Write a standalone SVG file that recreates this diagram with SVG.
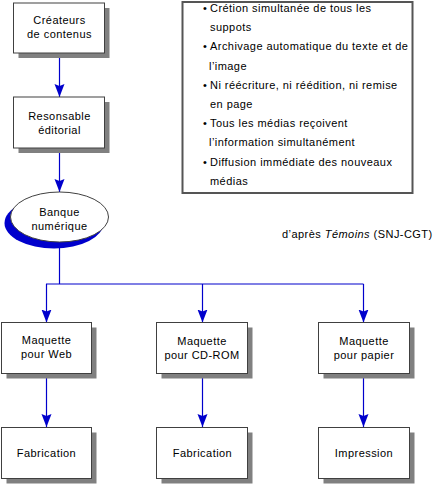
<svg xmlns="http://www.w3.org/2000/svg" width="446" height="487" viewBox="0 0 446 487">
<style>
text{font-family:"Liberation Sans",Arial,sans-serif;font-size:11px;fill:#000;letter-spacing:0.45px}
.c{text-anchor:middle}
.box{fill:#fff;stroke:#404040;stroke-width:1}
.sh{fill:#808080}
.ln{stroke:#0000cc;stroke-width:1.2;fill:none}
</style>
<defs>
<marker id="ah" markerUnits="userSpaceOnUse" markerWidth="14" markerHeight="11" refX="13" refY="5.5" orient="auto" viewBox="0 0 14 11">
<path d="M0,0.5 L13,5.5 L0,10.5 L2,5.5 z" fill="#0000cc"/>
</marker>
</defs>
<rect width="446" height="487" fill="#fff"/>
<g id="connectors">
<line class="ln" x1="59.5" y1="53" x2="59.5" y2="97" marker-end="url(#ah)"/>
<line class="ln" x1="59.5" y1="148" x2="59.5" y2="192" marker-end="url(#ah)"/>
<polyline class="ln" points="59.5,242 59.5,284"/>
<line class="ln" x1="46" y1="284" x2="363.5" y2="284"/>
<line class="ln" x1="46.5" y1="284" x2="46.5" y2="322.5" marker-end="url(#ah)"/>
<line class="ln" x1="202.5" y1="284" x2="202.5" y2="322.5" marker-end="url(#ah)"/>
<line class="ln" x1="363.5" y1="284" x2="363.5" y2="322.5" marker-end="url(#ah)"/>
<line class="ln" x1="46.5" y1="373" x2="46.5" y2="427" marker-end="url(#ah)"/>
<line class="ln" x1="202.5" y1="373" x2="202.5" y2="427" marker-end="url(#ah)"/>
<line class="ln" x1="363.5" y1="373" x2="363.5" y2="427" marker-end="url(#ah)"/>
</g>
<g id="createurs">
<rect class="sh" x="18.5" y="8" width="91" height="50"/>
<rect class="box" x="13.5" y="3" width="91" height="50"/>
<text class="c" x="59.5" y="23.5">Créateurs</text>
<text class="c" x="59.5" y="37.5">de contenus</text>
</g>
<g id="responsable">
<rect class="sh" x="18.5" y="102" width="91" height="51"/>
<rect class="box" x="13.5" y="97" width="91" height="51"/>
<text class="c" x="59.5" y="120">Resonsable</text>
<text class="c" x="59.5" y="134">éditorial</text>
</g>
<g id="banque">
<ellipse cx="54" cy="223" rx="49.5" ry="25.5" fill="#0000cc"/>
<ellipse cx="59.5" cy="217" rx="49" ry="25" fill="#fff" stroke="#404040" stroke-width="1"/>
<text class="c" x="59.5" y="215.5">Banque</text>
<text class="c" x="59.5" y="230">numérique</text>
</g>
<g id="notes">
<rect x="182.5" y="2" width="230" height="191" fill="#fff" stroke="#555" stroke-width="2"/>
<text x="203" y="12">•</text><text x="210" y="12">Crétion simultanée de tous les</text>
<text x="210" y="31">suppots</text>
<text x="203" y="50">•</text><text x="210" y="50">Archivage automatique du texte et de</text>
<text x="209" y="70">l’image</text>
<text x="203" y="89">•</text><text x="210" y="89">Ni réécriture, ni réédition, ni remise</text>
<text x="210" y="108">en page</text>
<text x="203" y="127">•</text><text x="210" y="127">Tous les médias reçoivent</text>
<text x="209" y="146">l’information simultanément</text>
<text x="203" y="166">•</text><text x="210" y="166">Diffusion immédiate des nouveaux</text>
<text x="210" y="185">médias</text>
</g>
<g id="source">
<text x="282" y="238">d’après <tspan font-style="italic">Témoins</tspan> (SNJ-CGT)</text>
</g>
<g id="maq-web">
<rect class="sh" x="6.5" y="327.5" width="90" height="51"/>
<rect class="box" x="1.5" y="322.5" width="90" height="51"/>
<text class="c" x="46.5" y="344">Maquette</text>
<text class="c" x="46.5" y="357.5">pour Web</text>
</g>
<g id="maq-cd">
<rect class="sh" x="161.5" y="327.5" width="91" height="51"/>
<rect class="box" x="156.5" y="322.5" width="91" height="51"/>
<text class="c" x="202" y="345">Maquette</text>
<text class="c" x="202" y="359">pour CD-ROM</text>
</g>
<g id="maq-papier">
<rect class="sh" x="323.5" y="327.5" width="91" height="51"/>
<rect class="box" x="318.5" y="322.5" width="91" height="51"/>
<text class="c" x="364" y="345">Maquette</text>
<text class="c" x="364" y="359">pour papier</text>
</g>
<g id="fab-web">
<rect class="sh" x="6.5" y="432.5" width="90" height="51"/>
<rect class="box" x="1.5" y="427.5" width="90" height="51"/>
<text class="c" x="46.5" y="457">Fabrication</text>
</g>
<g id="fab-cd">
<rect class="sh" x="161.5" y="432.5" width="91" height="51"/>
<rect class="box" x="156.5" y="427.5" width="91" height="51"/>
<text class="c" x="202.5" y="457">Fabrication</text>
</g>
<g id="impression">
<rect class="sh" x="323.5" y="432.5" width="91" height="51"/>
<rect class="box" x="318.5" y="427.5" width="91" height="51"/>
<text class="c" x="364" y="457">Impression</text>
</g>
</svg>
